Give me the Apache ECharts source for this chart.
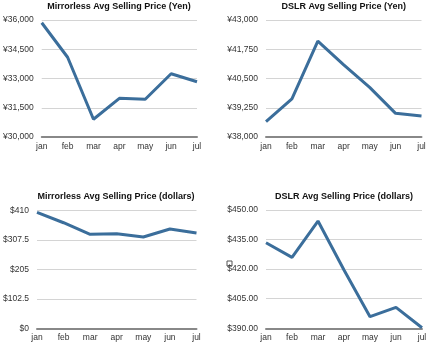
<!DOCTYPE html>
<html><head><meta charset="utf-8">
<script src="https://cdn.jsdelivr.net/npm/echarts@6/dist/echarts.min.js"></script>
<style>html,body{margin:0;padding:0;background:#fff}#c{width:430px;height:349px}</style>
</head><body><div id="c"></div>
<script>
var months = ['jan','feb','mar','apr','may','jun','jul'];
var mirrorlessYen = [35860, 34090, 30910, 31985, 31935, 33245, 32835];
var dslrYen = [38655, 39625, 42100, 41080, 40120, 39010, 38895];
var mirrorlessUsd = [404.4, 368, 327.7, 329.8, 318.3, 346.2, 332.2];
var dslrUsd = [433.4, 426, 444.4, 419.6, 395.9, 400.6, 390.3];
var titles = ['Mirrorless Avg Selling Price (Yen)','DSLR Avg Selling Price (Yen)','Mirrorless Avg Selling Price (dollars)','DSLR Avg Selling Price (dollars)'];

var grids = [
  {left:41, top:20, width:156, height:117},
  {left:266, top:20, width:155.5, height:117},
  {left:35.5, top:210.7, width:161, height:117.6},
  {left:266, top:210, width:156, height:118.3}
];
var yCfg = [
  {min:30000,max:36000,interval:1500,fmt:function(v){return '¥'+v.toLocaleString('en-US');}},
  {min:38000,max:43000,interval:1250,fmt:function(v){return '¥'+v.toLocaleString('en-US');}},
  {min:0,max:410,interval:102.5,fmt:function(v){return '$'+v;}},
  {min:390,max:450,interval:15,fmt:function(v){return '$'+v.toFixed(2);}}
];
var datasets = [mirrorlessYen, dslrYen, mirrorlessUsd, dslrUsd];
var font = 'Liberation Sans, Arial, Helvetica, sans-serif';

var option = {
  animation:false,
  title: titles.map(function(t,i){
    var g = grids[i];
    return {text:t, left:g.left+g.width/2, top:(i<2?2:192.5), textAlign:'center', padding:0,
      textStyle:{fontFamily:font,fontSize:9,fontWeight:'bold',color:'#111'}};
  }),
  grid: grids,
  xAxis: grids.map(function(g,i){
    return {type:'category',gridIndex:i,data:months,boundaryGap:false,
      axisLine:{lineStyle:{color:'#888',width:2}},axisTick:{show:false},
      axisLabel:{fontFamily:font,fontSize:8.5,color:'#333',margin:5,interval:0}};
  }),
  yAxis: yCfg.map(function(c,i){
    return {type:'value',gridIndex:i,min:c.min,max:c.max,interval:c.interval,
      axisLine:{show:false},axisTick:{show:false},
      splitLine:{lineStyle:{color:'#d4d4d4',width:1}},
      axisLabel:{fontFamily:font,fontSize:8.5,color:'#333',margin:8,formatter:c.fmt}};
  }),
  series: datasets.map(function(d,i){
    return {type:'line',xAxisIndex:i,yAxisIndex:i,data:d,symbol:'none',
      lineStyle:{color:'#3b6e9b',width:3},itemStyle:{color:'#3b6e9b'}};
  }),
  graphic:[{type:'rect',shape:{x:227,y:261,width:5,height:5},style:{fill:'#fff',stroke:'#555',lineWidth:1}}]
};
var chart = echarts.init(document.getElementById('c'));
chart.setOption(option);
</script></body></html>
